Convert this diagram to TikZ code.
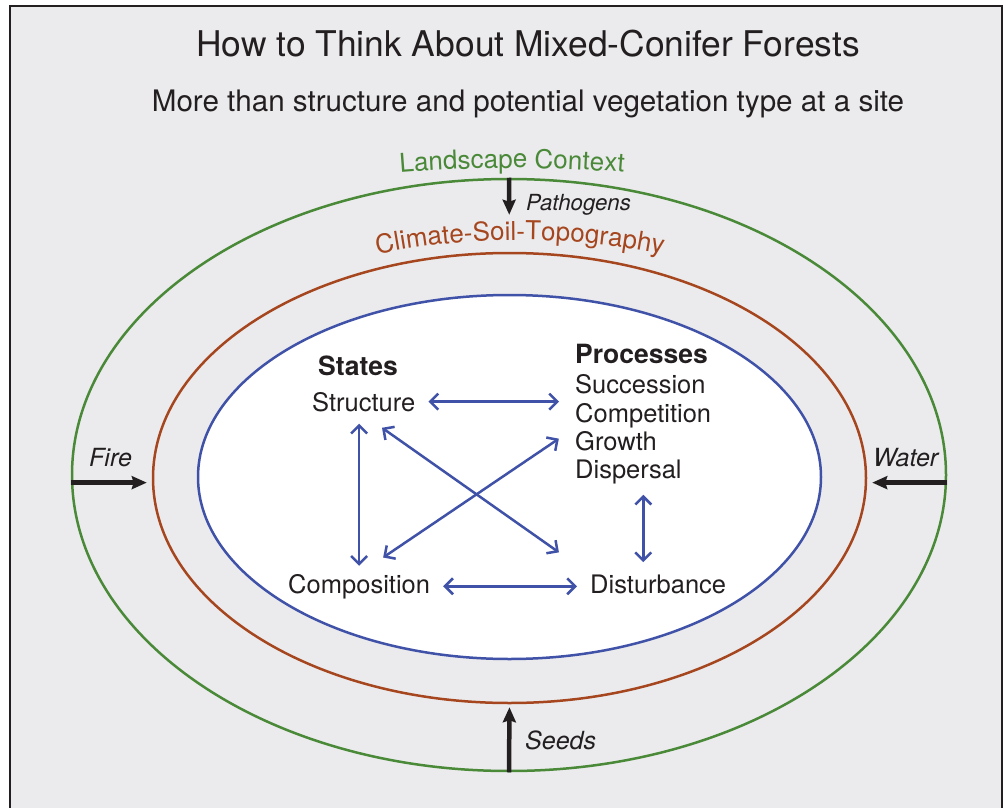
\documentclass[tikz,border=0pt]{standalone}
\usepackage{fontspec}
\setmainfont{TeX Gyre Heros}
\usetikzlibrary{arrows.meta,shapes.geometric,decorations.text,calc}
\definecolor{bgc}{RGB}{235,235,237}
\definecolor{framec}{RGB}{35,31,32}
\definecolor{tcol}{RGB}{35,31,32}
\definecolor{lgreen}{RGB}{73,137,56}
\definecolor{lbrown}{RGB}{165,70,31}
\definecolor{lblue}{RGB}{64,82,168}
\begin{document}
\begin{tikzpicture}[x=1pt,y=-1pt,
  ring/.style={ellipse, line width=2.5pt, inner sep=0pt},
  lbl/.style={inner sep=0pt, anchor=base west, text=tcol, font=\fontsize{25.5}{28}\selectfont},
  hd/.style={inner sep=0pt, anchor=base west, text=tcol, font=\fontsize{26.5}{28}\selectfont\bfseries},
  flow/.style={inner sep=0pt, anchor=base west, text=tcol, font=\fontsize{25}{28}\selectfont\itshape},
  bigarrow/.style={line width=4.5pt, draw=tcol, -{Stealth[length=15pt,width=13pt,inset=2pt]}},
  link/.style={line width=2.5pt, draw=lblue, {Straight Barb[length=8pt,width=16pt]}-{Straight Barb[length=8pt,width=16pt]}}
]
\useasboundingbox (0,0) rectangle (1004,808);
\fill[white] (0,0) rectangle (1004,808);
\begin{scope}
\clip (0,0) rectangle (1004,808);
\draw[line width=2pt, draw=framec, fill=bgc] (10,6.5) rectangle (1001.5,840);
\end{scope}

% rings
\node[ring, draw=lgreen, minimum width=874pt, minimum height=592pt] (green) at (509,475) {};
\node[ring, draw=lbrown, minimum width=713pt, minimum height=450pt] (brown) at (509.5,478) {};
\node[ring, draw=lblue, fill=white, minimum width=623pt, minimum height=364pt] (blue) at (509.5,477) {};

% titles
\node[anchor=base, inner sep=0pt, text=tcol, font=\fontsize{35.4}{40}\selectfont] (title) at (528,57) {How to Think About Mixed-Conifer Forests};
\node[anchor=base, inner sep=0pt, text=tcol, font=\fontsize{29.6}{32}\selectfont] (subtitle) at (528,111) {More than structure and potential vegetation type at a site};

% curved ring labels
\path[decorate, decoration={text along path, text align=center,
  text={|\fontsize{26}{26}\selectfont\color{lgreen}|Landscape Context}}]
  (512,1568) ++(263:1400) arc[start angle=263, end angle=277, radius=1400];
\path[decorate, decoration={text along path, text align=center,
  text={|\fontsize{26}{26}\selectfont\color{lbrown}|Climate-Soil-Topography}}]
  (520,960) ++(257:720) arc[start angle=257, end angle=283, radius=720];

% outer flows
\node[flow, font=\fontsize{22.2}{26}\selectfont\itshape] (pathogens) at (526,210) {Pathogens};
\node[flow] (fire) at (89,466) {Fire};
\node[flow] (water) at (873,466) {Water};
\node[flow] (seeds) at (525,749) {Seeds};

\draw[bigarrow, shorten >=37pt] (green.north) -- (brown.north);
\draw[bigarrow, shorten >=3pt] (green.south) -- (brown.south);
\draw[bigarrow, shorten >=5pt] (green.181) -- (green.181 -| brown.west);
\draw[bigarrow, shorten >=5pt] (green.-1) -- (green.-1 -| brown.east);

% inner content
\node[hd] (states) at (318,375) {States};
\node[lbl] (structure) at (312,411) {Structure};
\node[hd] (processes) at (575,363) {Processes};
\node[lbl] (succession) at (575,393) {Succession};
\node[lbl] (competition) at (575,422) {Competition};
\node[lbl] (growth) at (575,450) {Growth};
\node[lbl] (dispersal) at (575,478) {Dispersal};
\node[lbl] (composition) at (288,593) {Composition};
\node[lbl] (disturbance) at (590,593) {Disturbance};

\draw[link, shorten <=13pt, shorten >=16pt] (structure.east) -- (structure.east -| succession.west);
\draw[link, shorten <=12pt, shorten >=8pt] (composition.north |- structure.south) -- (composition.north);
\draw[link, shorten <=28pt, shorten >=38pt] (structure.south -| composition.north) -- (disturbance.north west);
\draw[link, shorten <=29pt, shorten >=19.5pt] (composition.north) -- (competition.south west);
\coordinate (mid) at ($(dispersal.south)!.5!(disturbance.north)$);
\draw[link, shorten <=11pt, shorten >=12pt] (mid |- dispersal.south) -- (mid |- disturbance.north);
\draw[link, shorten <=13pt, shorten >=13pt] (composition.east) -- (composition.east -| disturbance.west);
\end{tikzpicture}
\end{document}
